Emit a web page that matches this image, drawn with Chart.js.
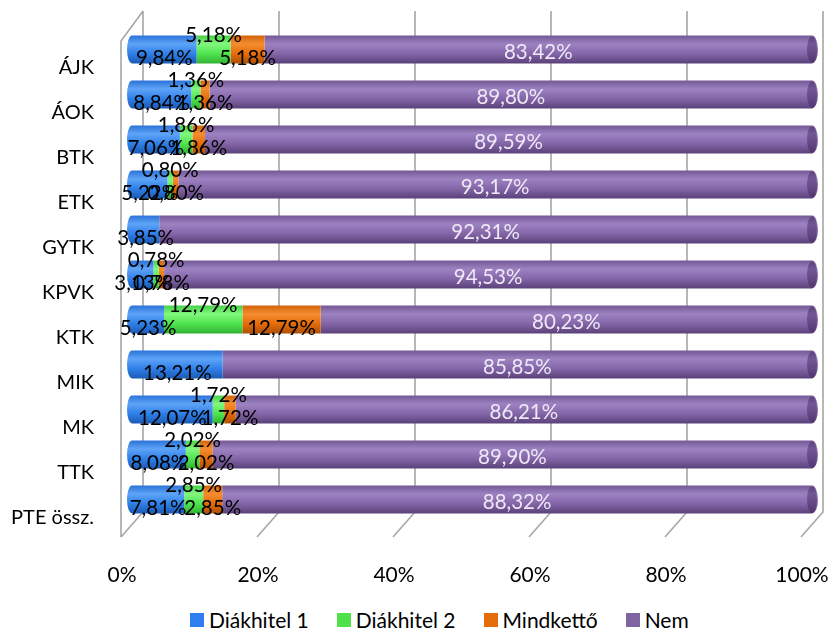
<!DOCTYPE html>
<html lang="hu">
  <head>
    <meta charset="UTF-8" />
    <title>Diákhitel karonként</title>
    <style>
      body { margin: 0; background: #fff; font-family: Lato, "Open Sans", sans-serif; }
      .chart-box { position: relative; width: 830px; height: 600px; }
      .legend {
        position: absolute; left: 190px; top: 607px;
        display: flex; align-items: center; font-size: 21px; line-height: 26px; color: #000;
      }
      .legend .item { display: flex; align-items: center; margin-right: 28px; }
      .legend i { display: inline-block; width: 14px; height: 14px; margin-right: 5px; }
    </style>
  </head>
  <body>
    <div class="chart-box"><canvas id="myChart" width="830" height="600"></canvas></div>
    <div class="legend" id="legend"></div>

    <script src="https://cdn.jsdelivr.net/npm/chart.js@4.4.0/dist/chart.umd.min.js"></script>
    <script>
      // karok es a kerdoiv szazalekai (a kep feliratai alapjan)
      const karok = ["ÁJK", "ÁOK", "BTK", "ETK", "GYTK", "KPVK", "KTK", "MIK", "MK", "TTK", "PTE össz."];
      const diakhitel1 = [9.84, 8.84, 7.06, 5.22, 3.85, 3.13, 5.23, 13.21, 12.07, 8.08, 7.81];
      const diakhitel2 = [5.18, 1.36, 1.86, 0.8, 0, 0.78, 12.79, 0, 1.72, 2.02, 2.85];
      const mindketto = [5.18, 1.36, 1.86, 0.8, 0, 0.78, 12.79, 0, 1.72, 2.02, 2.85];
      const nem = [83.42, 89.8, 89.59, 93.17, 92.31, 94.53, 80.23, 85.85, 86.21, 89.9, 88.32];
      const tickLabels = ["0%", "20%", "40%", "60%", "80%", "100%"];

      const FONT = "Lato";
      const series = [
        { label: "Diákhitel 1", raw: diakhitel1, flat: "#2f7ef0", stops: ["#2a72d8", "#5ea4f7", "#2f7fe8", "#1b5bb5"] },
        { label: "Diákhitel 2", raw: diakhitel2, flat: "#4fe04a", stops: ["#45cf45", "#82f77e", "#4fe44f", "#33b233"] },
        { label: "Mindkettő", raw: mindketto, flat: "#e46c0a", stops: ["#d2630a", "#f58d30", "#e46c0a", "#b05004"] },
        { label: "Nem", raw: nem, flat: "#8064a2", stops: ["#735894", "#9d82c2", "#8466a8", "#5a4179"] },
      ];
      const STOP_POS = [0, 0.3, 0.65, 1];

      // 100%-os halmozas: soronkent osszeg
      const sums = karok.map((k, j) => series.reduce((s, d) => s + d.raw[j], 0));

      function makeGrad(ctx, stops, yc, h) {
        const g = ctx.createLinearGradient(0, yc - h, 0, yc + h);
        stops.forEach((s, i) => g.addColorStop(STOP_POS[i], s));
        return g;
      }

      function cylinder(stops) {
        return (c) => {
          const ys = c.chart.scales.y;
          if (!ys || c.dataIndex === undefined) return stops[2];
          const yc = ys.getPixelForValue(c.dataIndex);
          if (!isFinite(yc)) return stops[2];
          return makeGrad(c.chart.ctx, stops, yc, 14);
        };
      }

      const fmt = (v) => v.toFixed(2).replace(".", ",") + "%";

      // 3D fal es padlo racsvonalak
      const wallPlugin = {
        id: "wall",
        beforeDatasetsDraw(chart) {
          const ctx = chart.ctx;
          const xs = chart.scales.x;
          const a = chart.chartArea;
          const top = a.top - 16, backBottom = a.bottom - 10, frontBottom = a.bottom + 15;
          ctx.save();
          ctx.strokeStyle = "#a6a6a6";
          ctx.lineWidth = 1.6;
          for (let v = 0; v <= 100; v += 20) {
            const xb = xs.getPixelForValue(v);
            ctx.beginPath();
            ctx.moveTo(xb + 11, top);
            ctx.lineTo(xb + 11, backBottom);
            ctx.lineTo(xb - 11, frontBottom);
            ctx.stroke();
          }
          const x0 = xs.getPixelForValue(0);
          ctx.beginPath();
          ctx.moveTo(x0 + 11, top);
          ctx.lineTo(x0 - 11, top + 30);
          ctx.lineTo(x0 - 11, frontBottom);
          ctx.stroke();
          ctx.restore();
        },
        afterDatasetsDraw(chart) {
          const ctx = chart.ctx;
          const first = chart.getDatasetMeta(0).data;
          const last = chart.getDatasetMeta(3).data;
          ctx.save();
          karok.forEach((k, j) => {
            const b0 = first[j], b3 = last[j];
            const h = b0.height / 2;
            // bal vege
            ctx.fillStyle = makeGrad(ctx, series[0].stops, b0.y, h);
            ctx.beginPath();
            ctx.ellipse(b0.base, b0.y, 5, h, 0, Math.PI / 2, Math.PI * 1.5);
            ctx.fill();
            // jobb vege
            ctx.fillStyle = makeGrad(ctx, series[3].stops, b3.y, h);
            ctx.beginPath();
            ctx.ellipse(b3.x, b3.y, 6, h, 0, -Math.PI / 2, Math.PI / 2);
            ctx.fill();
            ctx.fillStyle = "rgba(60, 35, 90, 0.45)";
            ctx.beginPath();
            ctx.ellipse(b3.x, b3.y, 5, h - 1, 0, 0, Math.PI * 2);
            ctx.fill();
          });
          ctx.restore();
        },
      };

      const labelPlugin = {
        id: "segLabels",
        afterDatasetsDraw(chart) {
          const ctx = chart.ctx;
          const shift = [9, -14, 9, 3];
          ctx.save();
          ctx.font = "20.5px " + FONT;
          ctx.textAlign = "center";
          ctx.textBaseline = "middle";
          series.forEach((s, i) => {
            chart.getDatasetMeta(i).data.forEach((bar, j) => {
              const v = s.raw[j];
              if (!v) return;
              ctx.fillStyle = i === 3 ? "#eee8f6" : "#000";
              ctx.fillText(fmt(v), (bar.x + bar.base) / 2, bar.y + shift[i]);
            });
          });
          ctx.restore();
        },
      };

      new Chart(document.getElementById("myChart"), {
        type: "bar",
        data: {
          labels: karok,
          datasets: series.map((s) => ({
            label: s.label,
            data: s.raw.map((v, j) => (v / sums[j]) * 100),
            backgroundColor: cylinder(s.stops),
            borderWidth: 0,
            categoryPercentage: 1,
            barPercentage: 0.62,
          })),
        },
        options: {
          indexAxis: "y",
          responsive: false,
          animation: false,
          layout: { padding: { top: 27, right: 18, left: 0, bottom: 0 } },
          plugins: { legend: { display: false }, tooltip: { enabled: false } },
          scales: {
            x: {
              stacked: true,
              min: 0,
              max: 100,
              grid: { display: false },
              border: { display: false },
              ticks: {
                stepSize: 20,
                padding: 33,
                labelOffset: -10,
                color: "#000",
                font: { family: FONT, size: 21 },
                callback: (v, i) => tickLabels[i],
              },
              afterFit: (s) => {
                s.height = 78;
                s.paddingLeft = 0;
                s.paddingRight = 0;
              },
            },
            y: {
              stacked: true,
              grid: { display: false },
              border: { display: false },
              ticks: {
                padding: 30,
                labelOffset: 18,
                color: "#000",
                font: { family: FONT, size: 20 },
              },
              afterFit: (s) => {
                s.width = 132;
                s.paddingTop = 0;
                s.paddingBottom = 0;
              },
            },
          },
        },
        plugins: [wallPlugin, labelPlugin],
      });

      // jelmagyarazat
      const legend = document.getElementById("legend");
      series.forEach((s) => {
        const item = document.createElement("span");
        item.className = "item";
        item.innerHTML = `<i style="background:${s.flat}"></i>${s.label}`;
        legend.appendChild(item);
      });
    </script>
  </body>
</html>
